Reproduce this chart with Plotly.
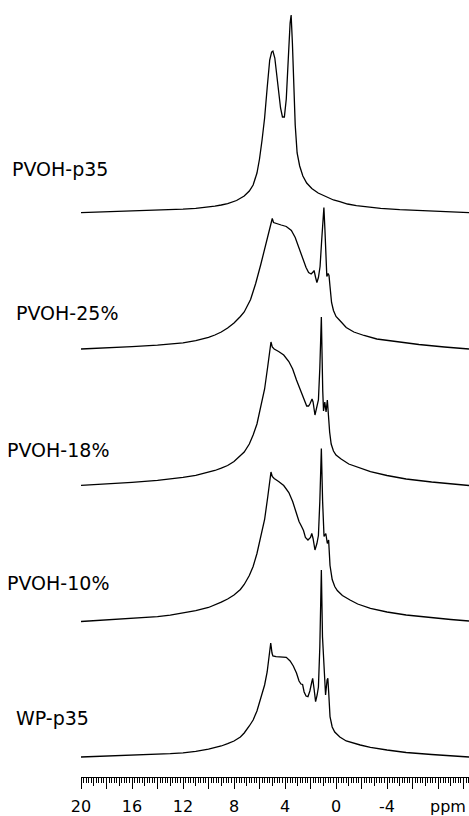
import plotly.graph_objects as go

# ---------------- data ----------------
# chemical shift (ppm) and intensity (arbitrary units, above each baseline)
p35_ppm = [20, 18, 16, 14, 13, 12, 11, 10.5, 10, 9.5, 9, 8.5, 7.8, 7.2, 6.8, 6.5, 6.2, 6.0,
           5.8, 5.6, 5.4, 5.2, 5.05, 4.95, 4.8, 4.65, 4.5, 4.35, 4.2, 4.05, 3.9, 3.8, 3.7,
           3.6, 3.52, 3.42, 3.32, 3.2, 3.05, 2.85, 2.6, 2.3, 1.9, 1.4, 0.8, 0.2, -0.3,
           -0.9, -1.6, -2.5, -3.5, -5.0, -7.0, -9.0, -10.43]
p35_int = [0.3, 1.1, 1.9, 2.8, 3.3, 3.9, 4.7, 5.3, 6.0, 6.9, 8.0, 9.4, 12.5, 17, 22, 28,
           40, 54, 73, 95, 125, 153, 161, 162, 155, 140, 121, 105, 96, 96, 114, 135, 165,
           190, 198, 170, 130, 88, 60, 47, 37, 30, 24.5, 20, 16.5, 13, 11.3,
           9, 7.3, 5.8, 4.6, 3.3, 2.2, 1, 0.3]

pv25_ppm = [20, 18, 16, 14, 13, 12, 11, 10.5, 10, 9.5, 9, 8.5, 8, 7.5, 7.2, 6.7, 6.3, 5.9,
            5.5, 5.2, 5.0, 4.9, 4.7, 4.3, 3.9, 3.5, 3.2, 2.95, 2.75, 2.55, 2.35, 2.15,
            1.95, 1.8, 1.72, 1.6, 1.5, 1.38, 1.25, 1.12, 1.02, 0.95, 0.87, 0.80, 0.72,
            0.62, 0.55, 0.47, 0.35, 0.2, 0.0, -0.3, -0.8, -1.4, -2.2, -3.2, -4.8, -6.5,
            -8.5, -10.43]
pv25_int = [0.5, 1.5, 2.8, 4.4, 5.4, 6.7, 8.8, 10.3, 12.2, 14.5, 17.5, 21.5, 26.5, 33,
            37.5, 50, 66, 85, 105, 120, 131, 127, 126, 124.5, 123, 119, 112, 103, 95, 88,
            82, 77, 75.5, 77.5, 79, 72, 67, 72, 83, 110, 135, 142, 120, 100, 73,
            76, 74, 63, 47, 39, 33, 29, 22, 17.5, 14, 10.5, 7.5, 5,
            2.5, 0.5]

pv18_ppm = [20, 18, 16, 14, 13, 12, 11, 10, 9.5, 9, 8.5, 8, 7.5, 7.2, 6.8, 6.5, 6.2, 5.9,
            5.6, 5.35, 5.2, 5.1, 5.0, 4.85, 4.5, 4.1, 3.7, 3.4, 3.1, 2.85, 2.65, 2.45,
            2.3, 2.15, 2.05, 1.88, 1.8, 1.65, 1.5, 1.38, 1.27, 1.15, 1.04, 0.98, 0.88,
            0.78, 0.68, 0.6, 0.5, 0.38, 0.2, 0.0, -0.4, -1.0, -1.8, -2.7, -4.0, -5.5,
            -7.5, -9.0, -10.43]
pv18_int = [0.7, 2, 3.7, 5.7, 7, 8.6, 10.7, 13.5, 15.5, 17.8, 20.5, 24.5, 30, 34, 42, 51,
            62, 79, 97, 120, 136, 144, 139, 137, 134.5, 131, 124.5, 117, 106, 98, 92, 86,
            80, 80, 82, 87, 84, 71, 78, 86, 118, 169, 95, 75, 84,
            74, 86, 70, 54, 42, 35, 31, 27, 22, 18, 14.3, 10.5, 7,
            4, 2, 0.5]

pv10_ppm = [20, 18, 16, 14, 13, 12, 11, 10, 9.5, 9, 8.5, 8, 7.5, 7.2, 6.8, 6.5, 6.2, 5.9,
            5.6, 5.35, 5.2, 5.1, 5.0, 4.85, 4.5, 4.1, 3.7, 3.4, 3.15, 2.9, 2.7, 2.55,
            2.4, 2.2, 2.0, 1.9, 1.8, 1.65, 1.5, 1.38, 1.27, 1.15, 1.05, 0.94, 0.8, 0.68,
            0.58, 0.47, 0.3, 0.1, -0.1, -0.5, -1.1, -1.7, -2.7, -4.0, -5.5, -7.5, -9.0,
            -10.43]
pv10_int = [0, 1.4, 3, 4.9, 6.3, 8.2, 10.8, 14, 16.5, 19.3, 22.5, 26.5, 32, 37, 46, 55,
            68, 84, 102, 125, 140, 149.5, 145, 143, 140, 136, 129, 120, 110, 100, 95, 91,
            84, 81.5, 84, 88, 83, 71.5, 78, 86, 120, 173, 120, 85, 88, 78,
            81.5, 56, 42, 35, 31, 26, 21.5, 17.5, 13.2, 9.5, 6.5, 3.5, 2,
            0.5]

wp_ppm = [20, 18, 16, 14, 13, 12, 11, 10, 9.5, 9, 8.5, 8, 7.5, 7.2, 6.8, 6.5, 6.2, 5.9,
          5.6, 5.4, 5.25, 5.12, 5.02, 4.95, 4.7, 4.3, 3.9, 3.6, 3.35, 3.1, 2.9, 2.75,
          2.62, 2.5, 2.35, 2.2, 2.05, 1.9, 1.83, 1.72, 1.6, 1.48, 1.38, 1.27, 1.15,
          1.06, 0.94, 0.82, 0.7, 0.64, 0.57, 0.47, 0.3, 0.1, -0.3, -0.8, -1.9, -2.7,
          -4.0, -5.5, -7.5, -9.0, -10.43]
wp_int = [0, 0.8, 1.6, 2.7, 3.3, 4.2, 5.6, 7.8, 9.2, 11, 13.3, 16, 20, 24, 31, 37,
          46, 58, 72, 85, 98, 114, 104, 101, 100.3, 100.3, 99.7, 96, 91, 84, 76, 73,
          72.5, 65, 61, 60.3, 66, 75, 78.7, 68, 55.3, 62, 70, 110, 187,
          120, 90, 62, 77, 78.7, 63.7, 40.3, 30, 25, 20, 16, 12, 9.7,
          7, 4.5, 2.5, 1, 0]

sample_names = ["PVOH-p35", "PVOH-25%", "PVOH-18%", "PVOH-10%", "WP-p35"]

tick_values = [20, 18, 16, 14, 12, 10, 8, 6, 4, 2, 0, -2, -4, -6, -8, -10]
tick_labels = ["20", "", "16", "", "12", "", "8", "", "4", "", "0", "", "-4", "", "", ""]

# ---------------- layout constants ----------------
offsets = [564, 427.5, 291, 155.5, 20]          # vertical stacking of the spectra
label_pos = [(10, 608), (14, 464), (5, 327), (5, 194), (14, 59)]  # (px from left, y)

spectra = [(p35_ppm, p35_int), (pv25_ppm, pv25_int), (pv18_ppm, pv18_int),
           (pv10_ppm, pv10_int), (wp_ppm, wp_int)]

fig = go.Figure()
for (ppm, inten), off, name in zip(spectra, offsets, sample_names):
    fig.add_trace(go.Scatter(
        x=ppm, y=[v + off for v in inten], mode="lines", name=name,
        line=dict(color="black", width=1.3), showlegend=False, hoverinfo="skip"))

# empty trace to carry the medium-tick overlay axis
fig.add_trace(go.Scatter(x=[], y=[], xaxis="x2", yaxis="y", showlegend=False))

L, R = 81, 0
plot_w = 469 - L - R
X_RANGE = [20.0, -10.43]

for (px, y), name in zip(label_pos, sample_names):
    fig.add_annotation(text=name, xref="paper", yref="y",
                       x=(px - L) / plot_w, y=y, xanchor="left", yanchor="middle",
                       showarrow=False,
                       font=dict(family="DejaVu Sans", size=19, color="black"))

fig.add_annotation(text="ppm", xref="paper", yref="paper",
                   x=(448 - L) / plot_w, y=-30 / 777, xanchor="center", yanchor="middle",
                   showarrow=False,
                   font=dict(family="DejaVu Sans", size=16, color="black"))

fig.update_layout(
    width=469, height=816,
    margin=dict(l=L, r=R, t=0, b=39),
    paper_bgcolor="white", plot_bgcolor="white",
    xaxis=dict(range=X_RANGE, tickmode="array", tickvals=tick_values, ticktext=tick_labels,
               ticks="outside", ticklen=11, tickwidth=1, tickcolor="black",
               showline=True, linecolor="black", linewidth=1,
               showgrid=False, zeroline=False, automargin=False,
               ticklabelstandoff=4,
               tickfont=dict(family="DejaVu Sans", size=16, color="black"),
               minor=dict(ticks="outside", ticklen=5, dtick=0.2, tick0=0,
                          tickcolor="black", tickwidth=1, showgrid=False)),
    xaxis2=dict(range=X_RANGE, overlaying="x", anchor="y", side="bottom",
                tickmode="linear", tick0=0, dtick=1, ticks="outside", ticklen=8,
                tickcolor="black", tickwidth=1, showticklabels=False, automargin=False,
                showline=False, showgrid=False, zeroline=False),
    yaxis=dict(range=[0, 777], visible=False, showgrid=False, zeroline=False,
               automargin=False),
)

fig.write_html("out.html", config={"displayModeBar": False},
               post_script="document.body.style.margin='0';document.body.style.overflow='hidden';")
